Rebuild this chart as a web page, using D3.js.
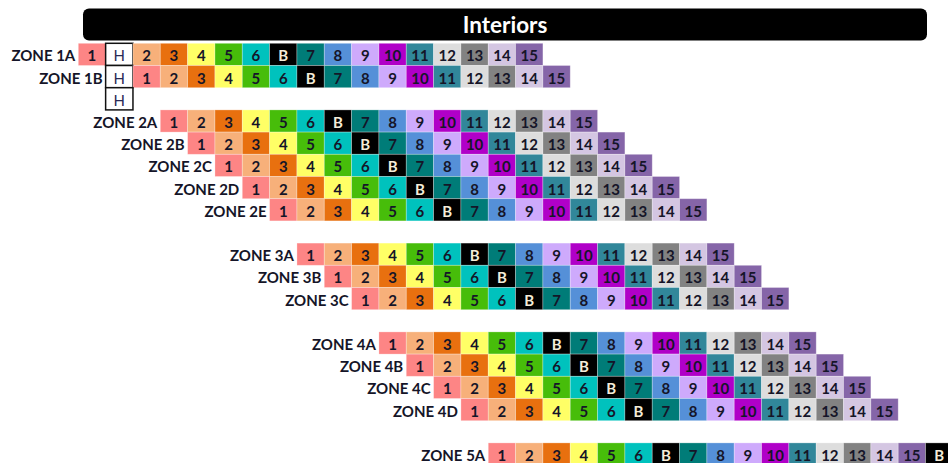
<!DOCTYPE html>
<html>
<head>
<meta charset="utf-8">
<script src="https://cdn.jsdelivr.net/npm/d3@7/dist/d3.min.js"></script>
<style>
  html, body { margin: 0; padding: 0; background: #fff; }
  svg { display: block; }
</style>
</head>
<body>
<div id="chart"></div>
<script>
// ---------- data ----------
const title = "Interiors";
const standardSeq = ["1","2","3","4","5","6","B","7","8","9","10","11","12","13","14","15"];
const zoneNames   = ["ZONE 1A","ZONE 1B","","ZONE 2A","ZONE 2B","ZONE 2C","ZONE 2D","ZONE 2E",
                     "ZONE 3A","ZONE 3B","ZONE 3C","ZONE 4A","ZONE 4B","ZONE 4C","ZONE 4D","ZONE 5A"];
const zoneRows    = [0,1,2,3,4,5,6,7,9,10,11,13,14,15,16,18];
const zoneStart   = [0,1,1,3,4,5,6,7,8,9,10,11,12,13,14,15];
const zoneSeqs    = [
  ["1","H","2","3","4","5","6","B","7","8","9","10","11","12","13","14","15"],
  ["H"].concat(standardSeq),
  ["H"],
  standardSeq, standardSeq, standardSeq, standardSeq, standardSeq,
  standardSeq, standardSeq, standardSeq,
  standardSeq, standardSeq, standardSeq, standardSeq,
  standardSeq.concat(["B"])
];
const cellKeys   = ["1","2","3","4","5","6","B","7","8","9","10","11","12","13","14","15","H"];
const cellColors = ["#fd8585","#f7b07a","#e8700f","#ffff66","#47bd0a","#00c2bd","#000000","#007c78",
                    "#5590d8","#ceaafc","#b000c8","#31879a","#dddddd","#828282","#d4c6e2","#8565a8","#ffffff"];

// ---------- layout ----------
const W = 948, H = 463;
const x0 = 78.3, cellW = 27.33, nCols = 32;
const y0 = 43.3, rowH = 22.2, nRows = 19;

const svg = d3.select("#chart").append("svg").attr("width", W).attr("height", H);

const x = d3.scaleBand().domain(d3.range(nCols)).range([x0, x0 + nCols * cellW]).padding(0);
const y = d3.scaleBand().domain(d3.range(nRows)).range([y0, y0 + nRows * rowH]).padding(0);
const color = d3.scaleOrdinal().domain(cellKeys).range(cellColors);

// title bar
svg.append("rect").attr("x", 83).attr("y", 8.5).attr("width", 844).attr("height", 32)
  .attr("rx", 6).attr("fill", "#000");
svg.append("text").attr("x", 505).attr("y", 24.5).attr("text-anchor", "middle")
  .attr("dominant-baseline", "central")
  .attr("font-family", "Lato, 'Open Sans', sans-serif").attr("font-weight", 700)
  .attr("font-size", 22.5).attr("fill", "#fff").text(title);

// build cells
const cells = [];
zoneNames.forEach((name, i) => {
  zoneSeqs[i].forEach((k, j) => cells.push({row: zoneRows[i], col: zoneStart[i] + j, key: k}));
});

const g = svg.append("g");
g.selectAll("rect.cell").data(cells).join("rect")
  .attr("class", "cell")
  .attr("x", d => x(d.col)).attr("y", d => y(d.row))
  .attr("width", x.bandwidth()).attr("height", y.bandwidth())
  .attr("fill", d => color(d.key))
  .attr("stroke", d => d.key === "H" ? "#111" : "rgba(255,255,255,0.35)")
  .attr("stroke-width", d => d.key === "H" ? 1.5 : 0.8);

g.selectAll("text.cell").data(cells).join("text")
  .attr("class", "cell")
  .attr("x", d => x(d.col) + x.bandwidth() / 2)
  .attr("y", d => y(d.row) + y.bandwidth() / 2 + 1)
  .attr("text-anchor", "middle").attr("dominant-baseline", "central")
  .attr("font-family", "Lato, 'Open Sans', sans-serif")
  .attr("font-weight", d => d.key === "H" ? 400 : 700)
  .attr("font-size", 15)
  .attr("fill", d => d.key === "B" ? "#f4ecd8" : (d.key === "H" ? "#2a2a55" : "#151528"))
  .text(d => d.key);

// zone labels
svg.selectAll("text.zone").data(zoneNames.map((n, i) => ({name: n, row: zoneRows[i], col: zoneStart[i]})).filter(d => d.name))
  .join("text")
  .attr("class", "zone")
  .attr("x", d => x(d.col) - 3)
  .attr("y", d => y(d.row) + y.bandwidth() / 2 + 1)
  .attr("text-anchor", "end").attr("dominant-baseline", "central")
  .attr("font-family", "Lato, 'Open Sans', sans-serif").attr("font-weight", 700)
  .attr("font-size", 15).attr("fill", "#151528")
  .text(d => d.name);
</script>
</body>
</html>
